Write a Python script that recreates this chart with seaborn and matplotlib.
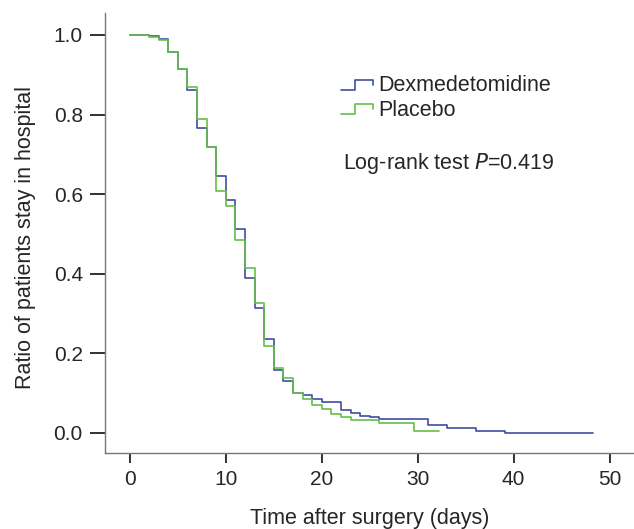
import matplotlib
matplotlib.use('Agg')
import matplotlib.pyplot as plt
import pandas as pd
import seaborn as sns
from matplotlib.legend_handler import HandlerBase
from matplotlib.lines import Line2D

# step times (days) and survival values
dex_time = [0, 2, 3, 4, 5, 6, 7, 8, 9, 10, 11, 12, 13, 14, 15, 16, 17, 18, 19, 20,
            22, 23, 24, 25, 26, 31.1, 33.1, 36.1, 39.1, 48.3]
dex_surv = [1.0, 0.997, 0.99, 0.958, 0.915, 0.862, 0.767, 0.719, 0.646, 0.585, 0.512,
            0.389, 0.315, 0.235, 0.158, 0.13, 0.1, 0.095, 0.085, 0.077,
            0.058, 0.049, 0.043, 0.039, 0.034, 0.021, 0.013, 0.004, 0.001, 0.001]

pla_time = [0, 2, 3, 4, 5, 6, 7, 8, 9, 10, 11, 12, 13, 14, 15, 16, 17, 18, 19, 20,
            21, 22, 23, 26, 29.6, 32.2]
pla_surv = [1.0, 0.995, 0.987, 0.958, 0.915, 0.869, 0.788, 0.719, 0.609, 0.569, 0.485,
            0.415, 0.327, 0.218, 0.163, 0.137, 0.1, 0.085, 0.07, 0.06,
            0.047, 0.041, 0.033, 0.024, 0.006, 0.006]

groups = ['Dexmedetomidine', 'Placebo']
colors = ['#3F4E9E', '#66BE4C']

df = pd.concat([
    pd.DataFrame({'time': dex_time, 'surv': dex_surv, 'group': groups[0]}),
    pd.DataFrame({'time': pla_time, 'surv': pla_surv, 'group': groups[1]}),
])

sns.set_style('ticks')
plt.rcParams['font.family'] = ['Liberation Sans', 'DejaVu Sans']


class StepHandler(HandlerBase):
    # legend key drawn as a small step, like the original
    def create_artists(self, legend, orig_handle, xdescent, ydescent, width, height, fontsize, trans):
        x0 = -xdescent
        y0, y1 = -ydescent + height * 0.1, -ydescent + height * 0.75
        xm1, xm2 = x0 + width * 0.45, x0 + width
        line = Line2D([x0, xm1, xm1, xm2, xm2], [y0, y0, y1, y1, y0 + height * 0.35],
                      color=orig_handle.get_color(), lw=1.2, transform=trans)
        return [line]


fig = plt.figure(figsize=(6.34, 5.29), dpi=100)
ax = fig.add_axes([0.1656, 0.1437, 0.8344, 0.8317])

sns.lineplot(data=df, x='time', y='surv', hue='group', palette=colors,
             drawstyle='steps-post', estimator=None, sort=False, lw=1.2,
             legend=False, ax=ax)

ax.set_xlim(-2.6, 52.55)
ax.set_ylim(-0.0503, 1.055)
ax.set_xticks([0, 10, 20, 30, 40, 50])
ax.set_yticks([0.0, 0.2, 0.4, 0.6, 0.8, 1.0])
ax.set_yticklabels(['0.0', '0.2', '0.4', '0.6', '0.8', '1.0'])

for side in ['top', 'right']:
    ax.spines[side].set_visible(False)
for side in ['left', 'bottom']:
    ax.spines[side].set_color('#777777')
    ax.spines[side].set_linewidth(1.0)

ax.tick_params(axis='y', length=11, width=1.3, color='#222222', pad=5, labelsize=15)
ax.tick_params(axis='x', length=7, width=1.3, color='#222222', pad=5, labelsize=15)

ax.set_xlabel('Time after surgery (days)', fontsize=15.5)
ax.set_ylabel('Ratio of patients stay in hospital', fontsize=15.5)
ax.xaxis.set_label_coords(0.5, -0.125)
ax.yaxis.set_label_coords(-0.13, 0.49)

handles = [Line2D([], [], color=c) for c in colors]
ax.legend(handles, groups, handler_map={Line2D: StepHandler()},
          loc='upper left', bbox_to_anchor=(0.446, 0.858), frameon=False,
          fontsize=15.5, handlelength=1.5, handletextpad=0.25, labelspacing=0.15,
          borderaxespad=0, borderpad=0)

ax.text(22.2, 0.678, 'Log-rank test $\\it{P}$=0.419', fontsize=15.5, va='center', ha='left')

fig.savefig('out.png', dpi=100)
